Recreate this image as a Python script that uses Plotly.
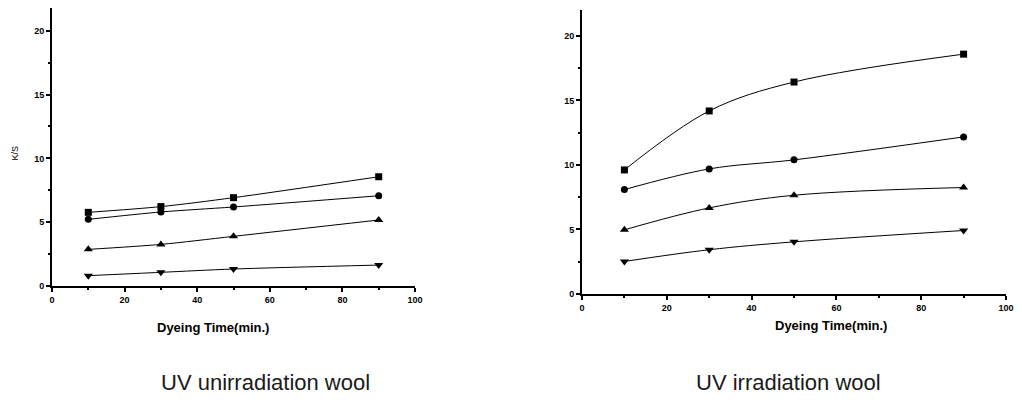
import plotly.graph_objects as go

# ---- data ----
dyeing_time = [10, 30, 50, 90]

# UV unirradiation wool (left panel)
unirr_square = [5.77, 6.22, 6.92, 8.56]
unirr_circle = [5.22, 5.80, 6.19, 7.07]
unirr_tri_up = [2.87, 3.26, 3.89, 5.17]
unirr_tri_down = [0.81, 1.07, 1.33, 1.64]

# UV irradiation wool (right panel)
irr_square = [9.61, 14.18, 16.42, 18.58]
irr_circle = [8.09, 9.69, 10.39, 12.17]
irr_tri_up = [4.97, 6.67, 7.65, 8.25]
irr_tri_down = [2.52, 3.43, 4.04, 4.92]

x_ticks = [0, 20, 40, 60, 80, 100]
y_ticks = [0, 5, 10, 15, 20]

caption_left = "UV unirradiation wool"
caption_right = "UV irradiation wool"
x_title = "Dyeing Time(min.)"
y_title = "K/S"

# page body has an 8px default margin; size the figure to the remaining window
OFF = 8
W, H = 1022 - OFF, 403 - OFF
FONT = "Arial, 'Liberation Sans', Helvetica, sans-serif"

fig = go.Figure()

symbols = ["square", "circle", "triangle-up", "triangle-down"]
sizes = [7, 7, 8, 8]

left_series = [unirr_square, unirr_circle, unirr_tri_up, unirr_tri_down]
right_series = [irr_square, irr_circle, irr_tri_up, irr_tri_down]

for ys, sym, sz in zip(left_series, symbols, sizes):
    fig.add_trace(go.Scatter(
        x=dyeing_time, y=ys, mode="lines+markers",
        line=dict(color="black", width=1, shape="spline", smoothing=0.8),
        marker=dict(symbol=sym, size=sz, color="black"),
        xaxis="x", yaxis="y", showlegend=False, hoverinfo="skip"))

for ys, sym, sz in zip(right_series, symbols, sizes):
    fig.add_trace(go.Scatter(
        x=dyeing_time, y=ys, mode="lines+markers",
        line=dict(color="black", width=1, shape="spline", smoothing=1.0),
        marker=dict(symbol=sym, size=sz, color="black"),
        xaxis="x2", yaxis="y2", showlegend=False, hoverinfo="skip"))


def px_x(p):
    return (p - OFF) / W


def px_y(p):
    return (H - (p - OFF)) / H


tickfont = dict(family=FONT, size=9, color="black", weight="bold")

common_x = dict(range=[0, 100], tickvals=x_ticks, ticks="outside", ticklen=4,
                tickwidth=1.5, tickcolor="black", showline=True, linecolor="black",
                linewidth=1.5, showgrid=False, zeroline=False, tickfont=tickfont,
                automargin=False,
                minor=dict(dtick=10, ticks="outside", ticklen=2, tickcolor="black"))
common_y = dict(tickvals=y_ticks, ticks="outside", ticklen=4,
                tickwidth=1.5, tickcolor="black", showline=True, linecolor="black",
                linewidth=2, showgrid=False, zeroline=False, tickfont=tickfont,
                automargin=False,
                minor=dict(dtick=2.5, ticks="outside", ticklen=2, tickcolor="black"))

fig.update_layout(
    width=W, height=H,
    margin=dict(l=0, r=0, t=0, b=0, autoexpand=False),
    paper_bgcolor="white", plot_bgcolor="white",
    xaxis=dict(domain=[px_x(52), px_x(415)], anchor="y", **common_x),
    yaxis=dict(domain=[px_y(286), px_y(8)], anchor="x", range=[0, 21.78], **common_y),
    xaxis2=dict(domain=[px_x(582), px_x(1006)], anchor="y2", **common_x),
    yaxis2=dict(domain=[px_y(294), px_y(10)], anchor="x2", range=[0, 22], **common_y),
    annotations=[
        dict(text=x_title, x=px_x(213), y=px_y(327), xref="paper", yref="paper",
             showarrow=False, xanchor="center", yanchor="middle",
             font=dict(family=FONT, size=13, color="black", weight="bold")),
        dict(text=x_title, x=px_x(831), y=px_y(325), xref="paper", yref="paper",
             showarrow=False, xanchor="center", yanchor="middle",
             font=dict(family=FONT, size=13, color="black", weight="bold")),
        dict(text=y_title, x=px_x(14.5), y=px_y(153), xref="paper", yref="paper",
             showarrow=False, xanchor="center", yanchor="middle", textangle=-90,
             font=dict(family=FONT, size=9, color="black")),
        dict(text=caption_left, x=px_x(265), y=px_y(382), xref="paper", yref="paper",
             showarrow=False, xanchor="center", yanchor="middle",
             font=dict(family=FONT, size=22, color="#1a1a1a")),
        dict(text=caption_right, x=px_x(788), y=px_y(382), xref="paper", yref="paper",
             showarrow=False, xanchor="center", yanchor="middle",
             font=dict(family=FONT, size=22, color="#1a1a1a")),
    ],
)

fig.write_html("out.html")
